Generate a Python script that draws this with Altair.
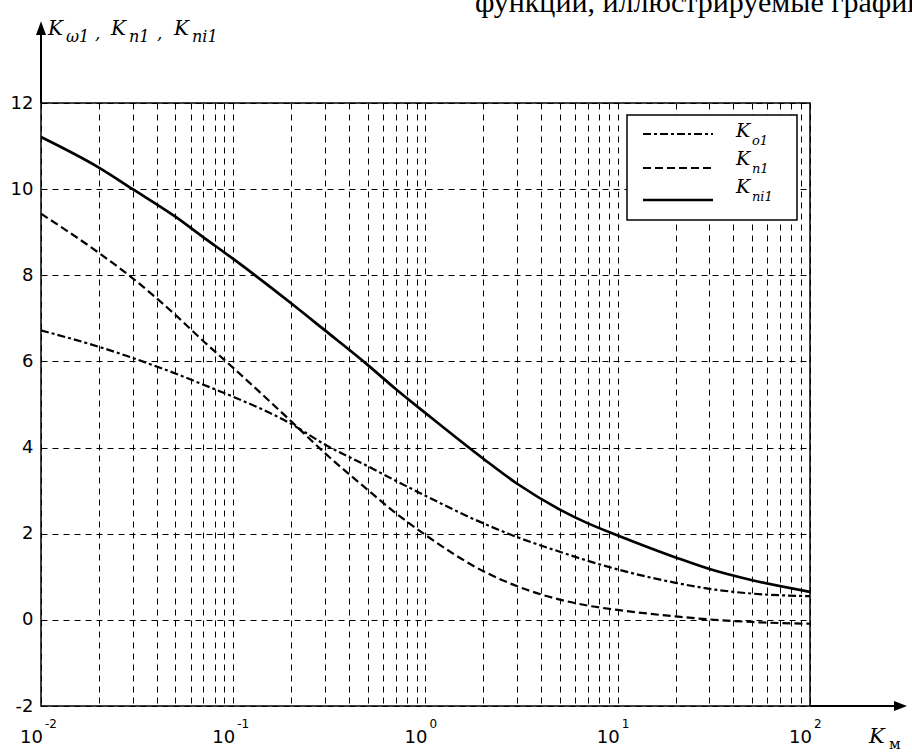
import altair as alt
import pandas as pd

# ---- data ----
X_VALS = [0.01, 0.02, 0.03, 0.05, 0.07, 0.1, 0.2, 0.3, 0.5, 0.7, 1, 2, 3, 5, 7, 10, 20, 30, 50, 100]
K_OMEGA1 = [6.72, 6.34, 6.08, 5.72, 5.46, 5.18, 4.55, 4.07, 3.57, 3.23, 2.88, 2.24, 1.92, 1.58, 1.37, 1.17, 0.86, 0.72, 0.61, 0.55]
K_N1 = [9.43, 8.52, 7.93, 7.08, 6.47, 5.85, 4.61, 3.87, 3.02, 2.48, 1.97, 1.13, 0.78, 0.47, 0.33, 0.23, 0.08, 0.01, -0.05, -0.09]
K_NI1 = [11.21, 10.50, 10.00, 9.36, 8.88, 8.38, 7.35, 6.72, 5.92, 5.36, 4.80, 3.74, 3.16, 2.56, 2.24, 1.96, 1.45, 1.18, 0.92, 0.65]
SERIES = ["omega1", "n1", "ni1"]

DECADES = [0.01, 0.1, 1, 10, 100]
DECADE_EXP = ["-2", "-1", "0", "1", "2"]
Y_TICKS = [-2, 0, 2, 4, 6, 8, 10, 12]
X_GRID = [round(m * 10.0 ** e, 6) for e in range(-2, 2) for m in range(1, 10)] + [100]

LEGEND_SUBS = ["o1", "n1", "ni1"]
TOP_TEXT = "функции, иллюстрируемые графиками"

# ---- tables ----
curves = pd.DataFrame({
    "x": X_VALS * 3,
    "y": K_OMEGA1 + K_N1 + K_NI1,
    "series": sum([[s] * len(X_VALS) for s in SERIES], []),
})
dec_df = pd.DataFrame({"x": DECADES, "y": [-2] * len(DECADES), "exp": DECADE_EXP})

xs = alt.Scale(type="log", domain=[0.01, 100], nice=False)
ys = alt.Scale(domain=[-2, 12], nice=False, zero=False)
xaxis = alt.Axis(values=X_GRID, labels=False, ticks=False, domain=False, grid=True, title=None)
yaxis = alt.Axis(values=Y_TICKS, labels=True, ticks=False, domain=False, grid=True, title=None,
                 labelExpr="datum.value + ''",
                 labelFont="DejaVu Sans", labelFontSize=18, labelColor="black", labelPadding=8)


def X(f="x"):
    return alt.X(f"{f}:Q", scale=xs, axis=xaxis)


def Y(f="y"):
    return alt.Y(f"{f}:Q", scale=ys, axis=yaxis)


layers = []

styles = {
    "omega1": dict(strokeDash=[8, 3, 3, 3], strokeWidth=2.2),
    "n1": dict(strokeDash=[8, 4], strokeWidth=2.2),
    "ni1": dict(strokeWidth=2.7),
}
for s in SERIES:
    layers.append(
        alt.Chart(curves).transform_filter(alt.datum.series == s)
        .mark_line(color="black", interpolate="monotone", **styles[s])
        .encode(x=X(), y=Y())
    )

# decade labels 10^n
layers.append(
    alt.Chart(dec_df).mark_text(text="10", align="right", baseline="alphabetic", dx=2, dy=37,
                                font="DejaVu Sans", fontSize=18, color="black")
    .encode(x=X(), y=Y())
)
layers.append(
    alt.Chart(dec_df).mark_text(align="left", baseline="alphabetic", dx=4, dy=22,
                                font="DejaVu Sans", fontSize=12, color="black")
    .encode(x=X(), y=Y(), text="exp:N")
)

# axis extensions with arrowheads (data coordinates beyond the domain)
yarr = pd.DataFrame({"x": [0.01], "y": [12], "y2": [13.6]})
xarr = pd.DataFrame({"x": [100], "x2": [275], "y": [-2]})
layers.append(alt.Chart(yarr).mark_rule(color="black", strokeWidth=2)
              .encode(x=X(), y=Y(), y2="y2:Q"))
layers.append(alt.Chart(xarr).mark_rule(color="black", strokeWidth=2)
              .encode(x=X(), x2="x2:Q", y=Y()))
yhead = pd.DataFrame({"x": [0.00942, 0.01, 0.01062], "y": [13.58, 13.58, 13.58], "y2": [13.58, 13.90, 13.58]})
xhead = pd.DataFrame({"y": [-2.116, -2.0, -1.884], "x": [273.5, 273.5, 273.5], "x2": [273.5, 319.6, 273.5]})
layers.append(alt.Chart(yhead).mark_area(color="black", opacity=1, orient="vertical")
              .encode(x=X(), y=Y(), y2="y2:Q"))
layers.append(alt.Chart(xhead).mark_area(color="black", opacity=1, orient="horizontal")
              .encode(y=Y(), x=X(), x2="x2:Q"))

one = pd.DataFrame({"a": [0]})

# legend box (pixel positions relative to the plot origin at 41,103)
layers.append(alt.Chart(one).mark_rect(fill="white", stroke="black", strokeWidth=1.5)
              .encode(x=alt.value(586), x2=alt.value(756), y=alt.value(12), y2=alt.value(117)))
leg_line_y = [31, 65, 97]
for s, ly in zip(SERIES, leg_line_y):
    st = dict(styles[s])
    layers.append(alt.Chart(one).mark_rule(color="black", **st)
                  .encode(x=alt.value(602), x2=alt.value(672), y=alt.value(ly)))


def txt(s, px, py, size, italic=True, font="DejaVu Serif", align="left"):
    kw = dict(text=s, align=align, baseline="alphabetic", font=font, fontSize=size, color="black")
    if italic:
        kw["fontStyle"] = "italic"
    return alt.Chart(one).mark_text(**kw).encode(x=alt.value(px), y=alt.value(py))


for sub, kb in zip(LEGEND_SUBS, [34, 62, 90]):
    layers.append(txt("K", 695, kb, 19))
    layers.append(txt(sub, 711, kb + 8, 13))

# y-axis title K_w1, K_n1, K_ni1
OX, OY = 41, 103
yt = [("K", 48, 35, 20), ("ω1", 66, 42, 16), (",", 95, 39, 17),
      ("K", 111, 35, 20), ("n1", 129, 42, 16), (",", 157, 39, 17),
      ("K", 174, 35, 20), ("ni1", 192, 42, 16)]
for s, px, py, sz in yt:
    layers.append(txt(s, px - OX, py - OY, sz))

# x-axis title K_м
layers.append(txt("K", 869 - OX, 743 - OY, 21))
layers.append(txt("м", 889 - OX, 749 - OY, 15, italic=False))

# top cut-off text
layers.append(txt(TOP_TEXT, 475 - OX, 12 - OY, 30, italic=False, font="Liberation Serif"))

chart = alt.layer(*layers).properties(
    width=769, height=603,
    autosize=alt.AutoSizeParams(type="none"),
    padding={"left": 41, "top": 103, "right": 102, "bottom": 48},
    background="white",
).configure_view(stroke="black", strokeWidth=1.5).configure_axis(
    gridColor="black", gridDash=[6, 5], gridWidth=1, gridOpacity=1
)

chart.save("out.html", embed_options={"renderer": "svg", "actions": False})
